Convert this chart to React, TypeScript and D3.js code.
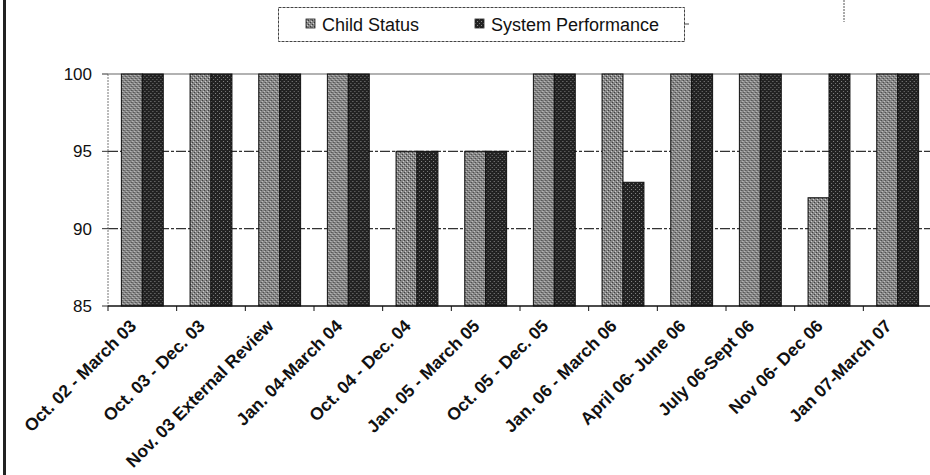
import React from "react";
import * as d3 from "d3";

const categories = [
  "Oct. 02 - March 03",
  "Oct. 03 - Dec. 03",
  "Nov. 03 External Review",
  "Jan. 04-March 04",
  "Oct. 04 - Dec. 04",
  "Jan. 05 - March 05",
  "Oct. 05 - Dec. 05",
  "Jan. 06 - March 06",
  "April 06- June 06",
  "July 06-Sept 06",
  "Nov 06- Dec 06",
  "Jan 07-March 07",
];
const childStatus = [100, 100, 100, 100, 95, 95, 100, 100, 100, 100, 92, 100];
const systemPerformance = [100, 100, 100, 100, 95, 95, 100, 93, 100, 100, 100, 100];
const seriesNames = ["Child Status", "System Performance"];
const yTicks = [85, 90, 95, 100];

const W = 930;
const H = 475;
const plotLeft = 108;
const plotRight = 932;
const plotTop = 74;
const plotBottom = 306;
const font = "'Liberation Sans', Arial, sans-serif";

export default function App() {
  const x0 = d3
    .scaleBand<string>()
    .domain(categories)
    .range([plotLeft, plotRight])
    .paddingInner(0.39)
    .paddingOuter(0.195);
  const x1 = d3.scaleBand<string>().domain(seriesNames).range([0, x0.bandwidth()]);
  const y = d3.scaleLinear().domain([85, 100]).range([plotBottom, plotTop]);
  const step = x0.step();
  const fills = ["url(#grayTex)", "url(#darkTex)"];
  const values = [childStatus, systemPerformance];

  return (
    <svg width={W} height={H} style={{ position: "absolute", left: 0, top: 0, background: "#fff" }}>
      <defs>
        <pattern id="grayTex" width="4" height="4" patternUnits="userSpaceOnUse">
          <rect width="4" height="4" fill="#868686" />
          <rect x="0" y="0" width="1" height="1" fill="#3c3c3c" />
          <rect x="2" y="2" width="1" height="1" fill="#3c3c3c" />
          <rect x="1" y="3" width="1" height="1" fill="#cfcfcf" />
          <rect x="3" y="1" width="1" height="1" fill="#cfcfcf" />
        </pattern>
        <pattern id="darkTex" width="4" height="4" patternUnits="userSpaceOnUse">
          <rect width="4" height="4" fill="#222" />
          <rect x="1" y="1" width="1" height="1" fill="#888" />
          <rect x="3" y="3" width="1" height="1" fill="#777" />
        </pattern>
      </defs>

      {/* frame edge on the left and a stray divider at the top */}
      <line x1={4.5} x2={4.5} y1={0} y2={H} stroke="#222" strokeWidth={3} />
      <line x1={844} x2={844} y1={0} y2={22} stroke="#555" strokeWidth={1} strokeDasharray="2,1" />

      {/* legend */}
      <g>
        <rect x={278.5} y={7.5} width={406} height={34} fill="#fff" stroke="#444" strokeWidth={1} strokeDasharray="3,1" />
        <line x1={684} x2={689} y1={24} y2={24} stroke="#444" />
        {seriesNames.map((name, i) => {
          const lx = i === 0 ? 306 : 475;
          return (
            <g key={name}>
              <rect x={lx} y={19} width={9} height={9} fill={fills[i]} stroke="#222" strokeWidth={0.8} />
              <text x={lx + 16} y={30.5} fontFamily={font} fontSize={18} fill="#111">
                {name}
              </text>
            </g>
          );
        })}
      </g>

      {/* gridlines */}
      <line x1={plotLeft} x2={W} y1={y(100)} y2={y(100)} stroke="#999" strokeWidth={1.5} />
      {[95, 90].map((v) => (
        <line key={v} x1={plotLeft} x2={W} y1={y(v)} y2={y(v)} stroke="#333" strokeWidth={1.2} strokeDasharray="10,2,3,2" />
      ))}

      {/* value axis */}
      <line x1={plotLeft} x2={plotLeft} y1={plotTop} y2={plotBottom} stroke="#777" strokeWidth={1} strokeDasharray="2,1" />
      {yTicks.map((t) => (
        <g key={t}>
          <line x1={plotLeft - 6} x2={plotLeft} y1={y(t)} y2={y(t)} stroke="#333" />
          <text x={92} y={y(t) + 6} textAnchor="end" fontFamily={font} fontSize={17} fill="#111">
            {t}
          </text>
        </g>
      ))}

      {/* bars */}
      {categories.map((c, ci) => (
        <g key={c} transform={`translate(${x0(c)},0)`}>
          {seriesNames.map((s, si) => {
            const v = values[si][ci];
            return (
              <rect
                key={s}
                x={x1(s)}
                y={y(v)}
                width={x1.bandwidth()}
                height={plotBottom - y(v)}
                fill={fills[si]}
                stroke="#111"
                strokeWidth={1}
              />
            );
          })}
        </g>
      ))}

      {/* category axis */}
      <line x1={plotLeft} x2={W} y1={plotBottom} y2={plotBottom} stroke="#111" strokeWidth={1.5} />
      {categories.map((c, ci) => {
        const tx = plotLeft + ci * step;
        return <line key={"t" + c} x1={tx} x2={tx} y1={plotBottom} y2={plotBottom + 5} stroke="#111" />;
      })}
      {categories.map((c) => {
        const cx = (x0(c) as number) + x0.bandwidth() / 2;
        const lx = cx - 5;
        const ly = plotBottom + 21;
        return (
          <text
            key={"l" + c}
            x={lx}
            y={ly}
            transform={`rotate(-45 ${lx} ${ly})`}
            textAnchor="end"
            fontFamily={font}
            fontSize={17.5}
            fontWeight="bold"
            fill="#111"
          >
            {c}
          </text>
        );
      })}
    </svg>
  );
}
